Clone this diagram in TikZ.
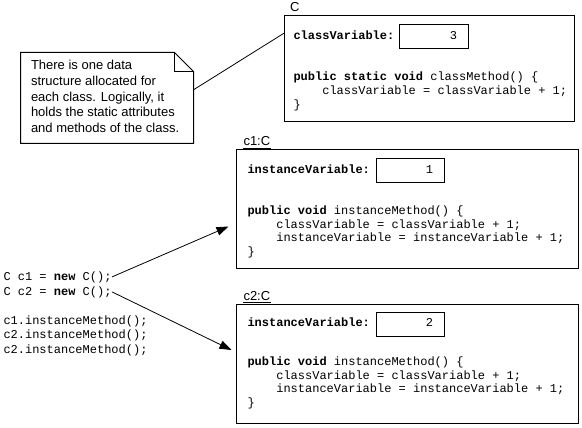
\documentclass[tikz,border=0pt]{standalone}
\usepackage{fontspec}
\setmainfont{Liberation Sans}
\newfontfamily\codefont{Liberation Mono}
\usetikzlibrary{arrows.meta,calc}
\begin{document}
\begin{tikzpicture}[x=1pt,y=-1pt,line width=1pt,
  objbox/.style={draw,rectangle,inner sep=0pt,anchor=north west},
  valbox/.style={draw,rectangle,inner sep=0pt,anchor=north west,minimum height=24pt},
  code/.style={font=\codefont\fontsize{12}{13.7}\selectfont,inner sep=0pt,anchor=base west},
  codeval/.style={font=\codefont\fontsize{12}{13.7}\selectfont,inner sep=0pt,anchor=base east},
  calls/.style={font=\codefont\fontsize{12}{14.5}\selectfont,inner sep=0pt,anchor=base west},
  sanslab/.style={font=\fontsize{13}{15.6}\selectfont,inner sep=0pt,anchor=base west},
  arr/.style={-{Triangle[length=12pt,width=8.5pt]},line width=0.8pt},
  thin/.style={line width=0.8pt}]
\fill[white] (0,0) rectangle (582,428);
\useasboundingbox (0,0) rectangle (582,428);

% ---- note ----
\node[inner sep=0pt,minimum width=172pt,minimum height=90pt,anchor=north west] (note) at (20.5,52.5) {};
\draw ($(note.north east)+(-19,0)$) -- (note.north west) -- (note.south west)
  -- (note.south east) -- ($(note.north east)+(0,19)$) -- cycle;
\draw ($(note.north east)+(-19,0)$) -- ($(note.north east)+(-19,19)$) -- ($(note.north east)+(0,19)$);
\node[sanslab] (notetext) at (30.5,70) {\vtop{\hbox{There is one data}\hbox{structure allocated for}\hbox{each class. Logically, it}\hbox{holds the static attributes}\hbox{and methods of the class.}}};

% ---- class C ----
\node[sanslab] (clab) at (289.5,11.5) {C};
\node[objbox,minimum width=290pt,minimum height=106pt] (cbox) at (284,15) {};
\node[code] (cvarlab) at (293,40) {\textbf{classVariable:}};
\node[valbox,minimum width=69pt] (cval) at (399,24.5) {};
\node[codeval] (cvaltext) at (457.5,40) {3};
\node[code] (ccode) at (293,81) {\vtop{\hbox{\textbf{public static void} classMethod() \{}\hbox{\ \ \ \ classVariable = classVariable + 1;}\hbox{\}}}};

\draw[thin] ($(note.north east)!0.41!(note.south east)$) -- ($(cbox.north west)!0.17!(cbox.south west)$);

% ---- c1 ----
\node[sanslab] (c1lab) at (243,146) {c1:C};
\draw[thin] ([yshift=-2pt]c1lab.base west) -- ([yshift=-2pt]c1lab.base east);
\node[objbox,minimum width=342pt,minimum height=118pt] (c1box) at (236,149.5) {};
\node[code] (c1varlab) at (247,174) {\textbf{instanceVariable:}};
\node[valbox,minimum width=68pt] (c1val) at (376,158) {};
\node[codeval] (c1valtext) at (433.5,174) {1};
\node[code] (c1code) at (247,214.5) {\vtop{\hbox{\textbf{public void} instanceMethod() \{}\hbox{\ \ \ \ classVariable = classVariable + 1;}\hbox{\ \ \ \ instanceVariable = instanceVariable + 1;}\hbox{\}}}};

% ---- c2 ----
\node[sanslab] (c2lab) at (243,300) {c2:C};
\draw[thin] ([yshift=-2pt]c2lab.base west) -- ([yshift=-2pt]c2lab.base east);
\node[objbox,minimum width=342pt,minimum height=119pt] (c2box) at (236,303.5) {};
\node[code] (c2varlab) at (247,326.5) {\textbf{instanceVariable:}};
\node[valbox,minimum width=68pt] (c2val) at (376,312) {};
\node[codeval] (c2valtext) at (433.5,326.5) {2};
\node[code] (c2code) at (247,365.5) {\vtop{\hbox{\textbf{public void} instanceMethod() \{}\hbox{\ \ \ \ classVariable = classVariable + 1;}\hbox{\ \ \ \ instanceVariable = instanceVariable + 1;}\hbox{\}}}};

% ---- main code ----
\node[code] (decl1) at (3,280) {C c1 = \textbf{new} C();};
\node[code] (decl2) at (3,295) {C c2 = \textbf{new} C();};
\node[calls] (callcode) at (3,324) {\vtop{\hbox{c1.instanceMethod();}\hbox{c2.instanceMethod();}\hbox{c2.instanceMethod();}}};

\coordinate (t1) at (228.5,226.5);
\coordinate (t2) at (231.5,350);
\draw[arr] (decl1.east) -- (t1);
\draw[arr] (decl2.east) -- (t2);
\end{tikzpicture}
\end{document}
